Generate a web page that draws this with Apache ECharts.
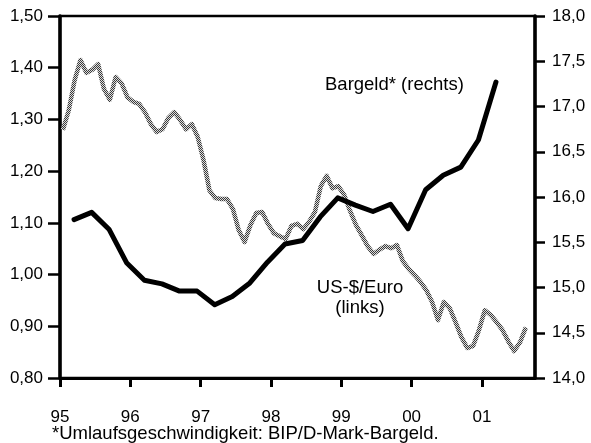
<!DOCTYPE html>
<html>
<head>
<meta charset="utf-8">
<script src="https://cdn.jsdelivr.net/npm/echarts@6/dist/echarts.min.js"></script>
<style>
html,body{margin:0;padding:0;background:#fff;}
#chart{width:591px;height:443px;}
</style>
</head>
<body>
<div id="chart"></div>
<script>
// ---- Data ----
// Bargeld* (Umlaufsgeschwindigkeit, right axis), quarterly 1995Q1 .. 2001Q1
const bargeldStart = { year: 1995, quarter: 1 };
const bargeld = [15.75, 15.83, 15.64, 15.27, 15.08, 15.04, 14.96, 14.96, 14.81, 14.90,
                 15.05, 15.28, 15.48, 15.52, 15.78, 15.99, 15.91, 15.84, 15.92, 15.65,
                 16.08, 16.24, 16.33, 16.63, 17.27];
// US-$/Euro (left axis), monthly 1995-01 .. 2001-08
const usdEuroStart = { year: 1995, month: 1 };
const usdEuro = [1.280, 1.318, 1.376, 1.415, 1.390, 1.396, 1.407, 1.359, 1.338, 1.382,
                 1.370, 1.343, 1.334, 1.330, 1.314, 1.291, 1.276, 1.281, 1.303, 1.314,
                 1.299, 1.281, 1.291, 1.266, 1.221, 1.163, 1.148, 1.146, 1.146, 1.127,
                 1.086, 1.063, 1.096, 1.119, 1.121, 1.098, 1.080, 1.074, 1.069, 1.094,
                 1.098, 1.088, 1.102, 1.121, 1.171, 1.191, 1.167, 1.171, 1.154, 1.123,
                 1.096, 1.076, 1.055, 1.040, 1.048, 1.055, 1.051, 1.057, 1.026, 1.011,
                 0.999, 0.986, 0.970, 0.947, 0.912, 0.947, 0.935, 0.908, 0.879, 0.858,
                 0.862, 0.893, 0.931, 0.922, 0.908, 0.893, 0.871, 0.852, 0.869, 0.898];
const yearTicks = [1995, 1996, 1997, 1998, 1999, 2000, 2001];
const leftTicks = [0.80, 0.90, 1.00, 1.10, 1.20, 1.30, 1.40, 1.50];
const rightTicks = [14.0, 14.5, 15.0, 15.5, 16.0, 16.5, 17.0, 17.5, 18.0];
const labelBargeld = 'Bargeld* (rechts)';
const labelUsd = 'US-$/Euro\n(links)';
const footnote = '*Umlaufsgeschwindigkeit: BIP/D-Mark-Bargeld.';

// ---- positions on a decimal-year axis ----
const QUARTER_OFFSET = 0.2;
const bargeldData = bargeld.map((v, i) => {
  const q = bargeldStart.quarter - 1 + i;
  return [bargeldStart.year + q / 4 + QUARTER_OFFSET, v];
});
const usdData = usdEuro.map((v, i) => {
  const m = usdEuroStart.month - 1 + i;
  return [usdEuroStart.year + (m + 0.5) / 12, v];
});

// halftone-like pattern for the grey line
const pc = document.createElement('canvas');
pc.width = 2; pc.height = 2;
const pctx = pc.getContext('2d');
pctx.fillStyle = '#dcdcdc'; pctx.fillRect(0, 0, 2, 2);
pctx.fillStyle = '#3a3a3a'; pctx.fillRect(0, 0, 1, 1); pctx.fillRect(1, 1, 1, 1);

const FONT = '"Liberation Sans", Arial, sans-serif';
const chart = echarts.init(document.getElementById('chart'), null, { renderer: 'canvas' });
chart.setOption({
  animation: false,
  backgroundColor: '#fff',
  grid: { left: 60, right: 56, top: 16, bottom: 65, show: true, borderColor: '#000', borderWidth: 2.5, backgroundColor: 'transparent' },
  xAxis: {
    type: 'value', min: 1995, max: 2001.755,
    axisLine: { show: true, onZero: false, lineStyle: { color: '#000', width: 3 } },
    axisTick: { show: true, customValues: yearTicks, length: 9, lineStyle: { color: '#000', width: 3 } },
    axisLabel: { customValues: yearTicks, margin: 31, color: '#000', fontSize: 17, fontFamily: FONT,
      formatter: v => String(Math.round(v) % 100).padStart(2, '0') },
    splitLine: { show: false }
  },
  yAxis: [
    { type: 'value', min: 0.8, max: 1.5, interval: 0.1, position: 'left',
      axisLine: { show: true, lineStyle: { color: '#000', width: 3.5 } },
      axisTick: { show: true, length: 12, lineStyle: { color: '#000', width: 2.5 } },
      axisLabel: { margin: 17, color: '#000', fontSize: 17, fontFamily: FONT,
        formatter: v => v.toFixed(2).replace('.', ',') },
      splitLine: { show: false } },
    { type: 'value', min: 14, max: 18, interval: 0.5, position: 'right',
      axisLine: { show: true, lineStyle: { color: '#000', width: 3.5 } },
      axisTick: { show: true, length: 10, lineStyle: { color: '#000', width: 2.5 } },
      axisLabel: { margin: 17, color: '#000', fontSize: 17, fontFamily: FONT,
        formatter: v => v.toFixed(1).replace('.', ',') },
      splitLine: { show: false } }
  ],
  series: [
    { name: 'US-$/Euro', type: 'line', yAxisIndex: 0, data: usdData, showSymbol: false, symbol: 'none',
      lineStyle: { color: { image: pc, repeat: 'repeat' }, width: 4.5, join: 'round' }, z: 2 },
    { name: 'Bargeld', type: 'line', yAxisIndex: 1, data: bargeldData, showSymbol: false, symbol: 'none',
      lineStyle: { color: '#000', width: 5, join: 'round', cap: 'round' }, z: 3 }
  ],
  graphic: [
    { type: 'text', x: 325, y: 85, style: { text: labelBargeld, fill: '#000', font: '18.5px ' + FONT, verticalAlign: 'middle' } },
    { type: 'text', x: 360, y: 298, style: { text: labelUsd, fill: '#000', font: '18.5px ' + FONT, align: 'center', verticalAlign: 'middle', lineHeight: 20 } },
    { type: 'text', x: 52, y: 434, style: { text: footnote, fill: '#000', font: '18.5px ' + FONT, verticalAlign: 'middle' } }
  ]
});
</script>
</body>
</html>
